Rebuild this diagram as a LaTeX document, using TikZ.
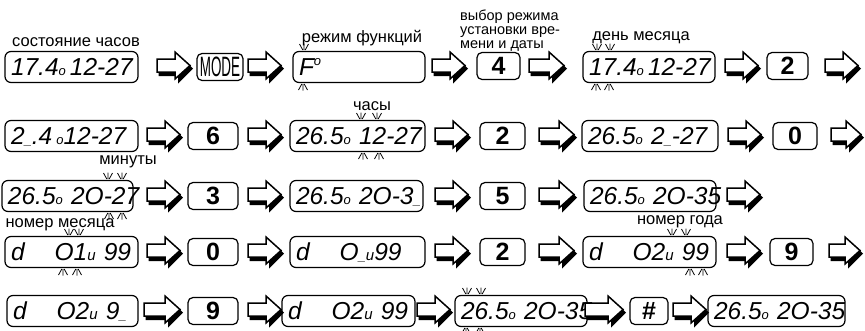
\documentclass[tikz,border=0pt]{standalone}
\usepackage{fontspec}
\setmainfont{Liberation Sans}
\newcommand\dgo{{\fontsize{13}{13}\selectfont o}}
\newcommand\dgu{{\fontsize{15}{15}\selectfont u}}
\newcommand\dgc{{\fontsize{13}{13}\selectfont\_}}
\newcommand\dgdeg{\raisebox{10pt}{\fontsize{13}{13}\selectfont o}}
\tikzset{pics/blkar/.style={code={
  \fill[black] (1.5,2)--(#1-12,2)--(#1-12,-11)--(#1+3,3)--(#1-12,18)--(#1-12,10.5)--(1.5,10.5)--cycle;
  \draw[line width=1.5pt,fill=white,line join=miter] (0,-6.5)--(#1-15,-6.5)--(#1-15,-13.5)--(#1,0)--(#1-15,13.5)--(#1-15,6.5)--(0,6.5)--cycle;}}}
\begin{document}
\begin{tikzpicture}[x=1pt,y=-1pt,
  disp/.style={draw,line width=1.2pt,rounded corners=6pt,minimum height=31pt,inner xsep=6pt,inner ysep=0pt,
    text width=#1,align=left,text height=17pt,text depth=0pt,font=\itshape\fontsize{24.5}{24.5}\selectfont},
  btn/.style={draw,line width=1.2pt,rounded corners=5pt,minimum height=27pt,minimum width=#1,inner sep=0pt,
    font=\bfseries\fontsize{25}{25}\selectfont},
  lbl/.style={anchor=base,inner sep=0pt,font=\fontsize{16.5}{18}\selectfont},
  rayup/.pic={\draw[line width=0.8pt] (-4.5,-3.5)--(-1.2,2.5) (0,-4)--(0,2.5) (4.5,-3.5)--(1.2,2.5);},
  raydn/.pic={\draw[line width=0.8pt] (-4.5,3.5)--(-1.2,-2.5) (0,4)--(0,-2.5) (4.5,3.5)--(1.2,-2.5);}]
\useasboundingbox (0,0) rectangle (865,330);

% row 1
\node[lbl] (l1)at(76,46.5){состояние часов};
\node[disp=121pt] (d1)at(71.5,67){\mbox{17.4\dgo\,12-27}};
\pic (a1) at (157,65.5) {blkar=33};
\node[btn=46pt] (k1)at(220,67){\mdseries\scalebox{0.48}[1]{\fontsize{28}{28}\selectfont MODE}};
\pic (a2) at (248,65.5) {blkar=33};
\node[lbl] (l2)at(362,42){режим функций};
\node[disp=120pt] (d2)at(359,67){\mbox{F\dgdeg}};
\pic (a3) at (432,65.5) {blkar=33};
\node[btn=43pt] (k2)at(498.5,66){4};
\node[align=left,anchor=north west,inner sep=0pt,font=\fontsize{14.5}{14}\selectfont] (l3)at(460,10){выбор режима\\установки вре-\\мени и даты};
\pic (a4) at (529,65.5) {blkar=35};
\node[lbl] (l4)at(641,40){день месяца};
\node[disp=120pt] (d3)at(649,67){\mbox{17.4\dgo\,12-27}};
\pic (a5) at (725,65.5) {blkar=33};
\node[btn=41pt] (k3)at(787.5,66){2};
\pic (a6) at (825,65.5) {blkar=33};
\pic at (304,47.5) {rayup};
\pic at (303,86.5) {raydn};
\pic at (597,47.5) {rayup};
\pic at (610,47.5) {rayup};
\pic at (596,86.5) {raydn};
\pic at (609,86.5) {raydn};

% row 2
\node[disp=121pt] (d4)at(71.5,136){\mbox{2\dgc.4\hspace{4pt}\dgo 12-27}};
\pic (a7) at (147,134.5) {blkar=33};
\node[btn=50pt] (k4)at(213,136){6};
\pic (a8) at (248,134.5) {blkar=33};
\node[lbl] (l5)at(372,110){часы};
\node[disp=123pt] (d5)at(357.5,136){\mbox{26.5\dgo\ 12-27}};
\pic (a9) at (435,134.5) {blkar=33};
\node[btn=45pt] (k5)at(502.5,136){2};
\pic (a10) at (539,134.5) {blkar=35};
\node[disp=124pt] (d6)at(650,136){\mbox{26.5\dgo\ 2\dgc-27}};
\pic (a11) at (728,134.5) {blkar=33};
\node[btn=44pt] (k6)at(795,136){0};
\pic (a12) at (831,134.5) {blkar=30};
\pic at (361,116.5) {rayup};
\pic at (377,116.5) {rayup};
\pic at (363,155.5) {raydn};
\pic at (379,155.5) {raydn};

% row 3
\node[lbl] (l6)at(128,164){минуты};
\node[disp=119pt] (d7)at(67.5,196){\mbox{26.5\dgo\ 2O-27}};
\pic (a13) at (147,194.5) {blkar=33};
\node[btn=50pt] (k7)at(213,196){3};
\pic (a14) at (248,194.5) {blkar=33};
\node[disp=121pt] (d8)at(356.5,196){\mbox{26.5\dgo\ 2O-3\dgc}};
\pic (a15) at (435,194.5) {blkar=33};
\node[btn=45pt] (k8)at(502.5,196){5};
\pic (a16) at (539,194.5) {blkar=35};
\node[disp=120pt] (d9)at(650,196){\mbox{26.5\dgo\ 2O-35}};
\pic (a17) at (727,194.5) {blkar=33};
\pic at (108,176.5) {rayup};
\pic at (122,176.5) {rayup};
\pic at (109,215.5) {raydn};
\pic at (122,215.5) {raydn};

% row 4
\node[lbl] (l7)at(60,227){номер месяца};
\node[disp=121pt] (d10)at(71.5,252){\mbox{d\hspace{30pt}O1\dgu\ 99}};
\pic (a18) at (147,250.5) {blkar=33};
\node[btn=50pt] (k9)at(213,252){0};
\pic (a19) at (248,250.5) {blkar=33};
\node[disp=123pt] (d11)at(357.5,252){\mbox{d\hspace{30pt}O\dgc\dgu 99}};
\pic (a20) at (435,250.5) {blkar=33};
\node[btn=45pt] (k10)at(502.5,252){2};
\pic (a21) at (539,250.5) {blkar=35};
\node[lbl] (l8)at(680,224){номер года};
\node[disp=121pt] (d12)at(649.5,252){\mbox{d\hspace{30pt}O2\dgu\ 99}};
\pic (a22) at (727,250.5) {blkar=33};
\node[btn=43pt] (k11)at(791.5,252){9};
\pic (a23) at (829,250.5) {blkar=31};
\pic at (69,232.5) {rayup};
\pic at (79,232.5) {rayup};
\pic at (63,271.5) {raydn};
\pic at (77,271.5) {raydn};
\pic at (672,232.5) {rayup};
\pic at (686,232.5) {rayup};
\pic at (690,271.5) {raydn};
\pic at (703,271.5) {raydn};

% row 5
\node[disp=119pt] (d13)at(72.5,311){\mbox{d\hspace{30pt}O2\dgu\ 9\dgc}};
\pic (a24) at (144,309.5) {blkar=36};
\node[btn=50pt] (k12)at(213,311){9};
\pic (a25) at (248,309.5) {blkar=33};
\node[disp=121pt] (d14)at(348.5,311){\mbox{d\hspace{30pt}O2\dgu\ 99}};
\pic (a26) at (417,309.5) {blkar=33};
\node[disp=120pt] (d15)at(521,311){\mbox{26.5\dgo\ 2O-35}};
\pic (a27) at (585,309.5) {blkar=38};
\node[btn=38pt] (k13)at(649,311){\#};
\pic (a28) at (673,309.5) {blkar=33};
\node[disp=125pt] (d16)at(776.5,311){\mbox{26.5\dgo\ 2O-35}};
\pic at (467,291.5) {rayup};
\pic at (481,291.5) {rayup};
\pic at (466,330.5) {raydn};
\pic at (480,330.5) {raydn};
\end{tikzpicture}
\end{document}
